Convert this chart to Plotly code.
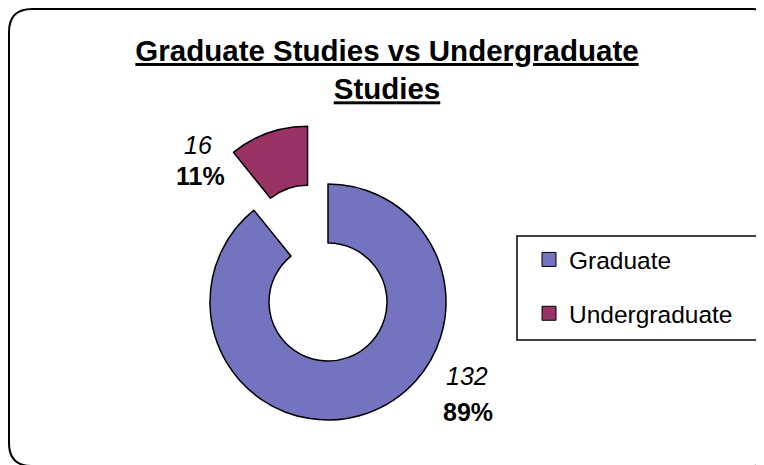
import math
import plotly.graph_objects as go

# ---- data ----
categories = ["Graduate", "Undergraduate"]
counts = [132, 16]
colors = ["#7373c0", "#993366"]
pull_fraction = 0.52  # undergraduate slice pulled out
title_lines = ["Graduate Studies vs Undergraduate", "Studies"]

# ---- layout constants ----
# The page body has an 8px margin, so the figure starts at (8, 8) of the window.
OFF = 8
FW, FH = 764 - OFF, 465 - OFF
FONT = "Liberation Sans, Arial, sans-serif"

# geometry in window pixels
CX, CY, R = 328, 302, 118
HOLE = 0.5


def px(x):
    return (x - OFF) / FW


def py(y):
    return 1 - (y - OFF) / FH


total = sum(counts)
pcts = [c / total * 100 for c in counts]

# bisector of the undergraduate slice (clockwise from 12 o'clock)
start_deg = counts[0] / total * 360
mid = math.radians(start_deg + counts[1] / total * 360 / 2)
shift = pull_fraction * R
dx = math.sin(mid) * shift
dy = -math.cos(mid) * shift  # screen-down positive


def domain(cx, cy, r):
    return dict(x=[px(cx - r), px(cx + r)], y=[py(cy + r), py(cy - r)])


clear = "rgba(0,0,0,0)"
fig = go.Figure()

# Graduate slice (in place)
fig.add_trace(go.Pie(
    labels=categories, values=counts, sort=False, direction="clockwise",
    rotation=0, hole=HOLE, domain=domain(CX, CY, R),
    marker=dict(colors=[colors[0], clear],
                line=dict(color=["black", clear], width=[1.5, 0])),
    textinfo="none", showlegend=False, hoverinfo="label+value+percent",
))
# Undergraduate slice (pulled out along its bisector)
fig.add_trace(go.Pie(
    labels=categories, values=counts, sort=False, direction="clockwise",
    rotation=0, hole=HOLE, domain=domain(CX + dx, CY + dy, R),
    marker=dict(colors=[clear, colors[1]],
                line=dict(color=[clear, "black"], width=[0, 1.5])),
    textinfo="none", showlegend=False, hoverinfo="label+value+percent",
))

# legend entries
for cat, col in zip(categories, colors):
    fig.add_trace(go.Scatter(
        x=[None], y=[None], mode="markers", name=cat, legendgroup=cat,
        marker=dict(symbol="square", size=14, color=col,
                    line=dict(color="black", width=1)),
    ))

# data labels (window pixels)
label_pos = {
    "Graduate": [(467, 376), (468, 412)],
    "Undergraduate": [(198, 145), (200, 176)],
}
annotations = []
for cat, cnt, pct in zip(categories, counts, pcts):
    (x1, y1), (x2, y2) = label_pos[cat]
    annotations.append(dict(x=px(x1), y=py(y1), xref="paper", yref="paper",
                            xanchor="center", yanchor="middle",
                            text=f"<i>{cnt}</i>", showarrow=False,
                            font=dict(size=25, color="black", family=FONT)))
    annotations.append(dict(x=px(x2), y=py(y2), xref="paper", yref="paper",
                            xanchor="center", yanchor="middle",
                            text=f"<b>{pct:.0f}%</b>", showarrow=False,
                            font=dict(size=25, color="black", family=FONT)))

# rounded outer frame (window pixels)
x0, y0, x1, y1, rr = 9, 9, 775, 466, 23
path = (f"M{px(x0+rr)},{py(y0)} L{px(x1-rr)},{py(y0)} Q{px(x1)},{py(y0)} {px(x1)},{py(y0+rr)} "
        f"L{px(x1)},{py(y1-rr)} Q{px(x1)},{py(y1)} {px(x1-rr)},{py(y1)} "
        f"L{px(x0+rr)},{py(y1)} Q{px(x0)},{py(y1)} {px(x0)},{py(y1-rr)} "
        f"L{px(x0)},{py(y0+rr)} Q{px(x0)},{py(y0)} {px(x0+rr)},{py(y0)} Z")

# legend box (window pixels)
lb = (517, 236, 757, 340)

title_text = "<br>".join(f"<b><u>{t}</u></b>" for t in title_lines)

fig.update_layout(
    width=FW, height=FH,
    margin=dict(l=0, r=0, t=0, b=0),
    paper_bgcolor="white", plot_bgcolor="white",
    font=dict(family=FONT, color="black"),
    title=dict(text=title_text, x=px(387), xanchor="center", y=py(61),
               yanchor="top", font=dict(size=29.5, family=FONT, color="black")),
    xaxis=dict(visible=False), yaxis=dict(visible=False),
    legend=dict(x=px(529), y=py(237), xanchor="left", yanchor="top",
                borderwidth=0, bgcolor="rgba(0,0,0,0)",
                font=dict(size=24.5, family=FONT, color="black"),
                tracegroupgap=19),
    annotations=annotations,
    shapes=[
        dict(type="path", path=path, xref="paper", yref="paper",
             line=dict(color="black", width=2), fillcolor="rgba(0,0,0,0)"),
        dict(type="rect", xref="paper", yref="paper",
             x0=px(lb[0]), x1=px(lb[2]), y0=py(lb[3]), y1=py(lb[1]),
             line=dict(color="black", width=1.5), fillcolor="rgba(0,0,0,0)"),
    ],
)

fig.write_html("out.html")
